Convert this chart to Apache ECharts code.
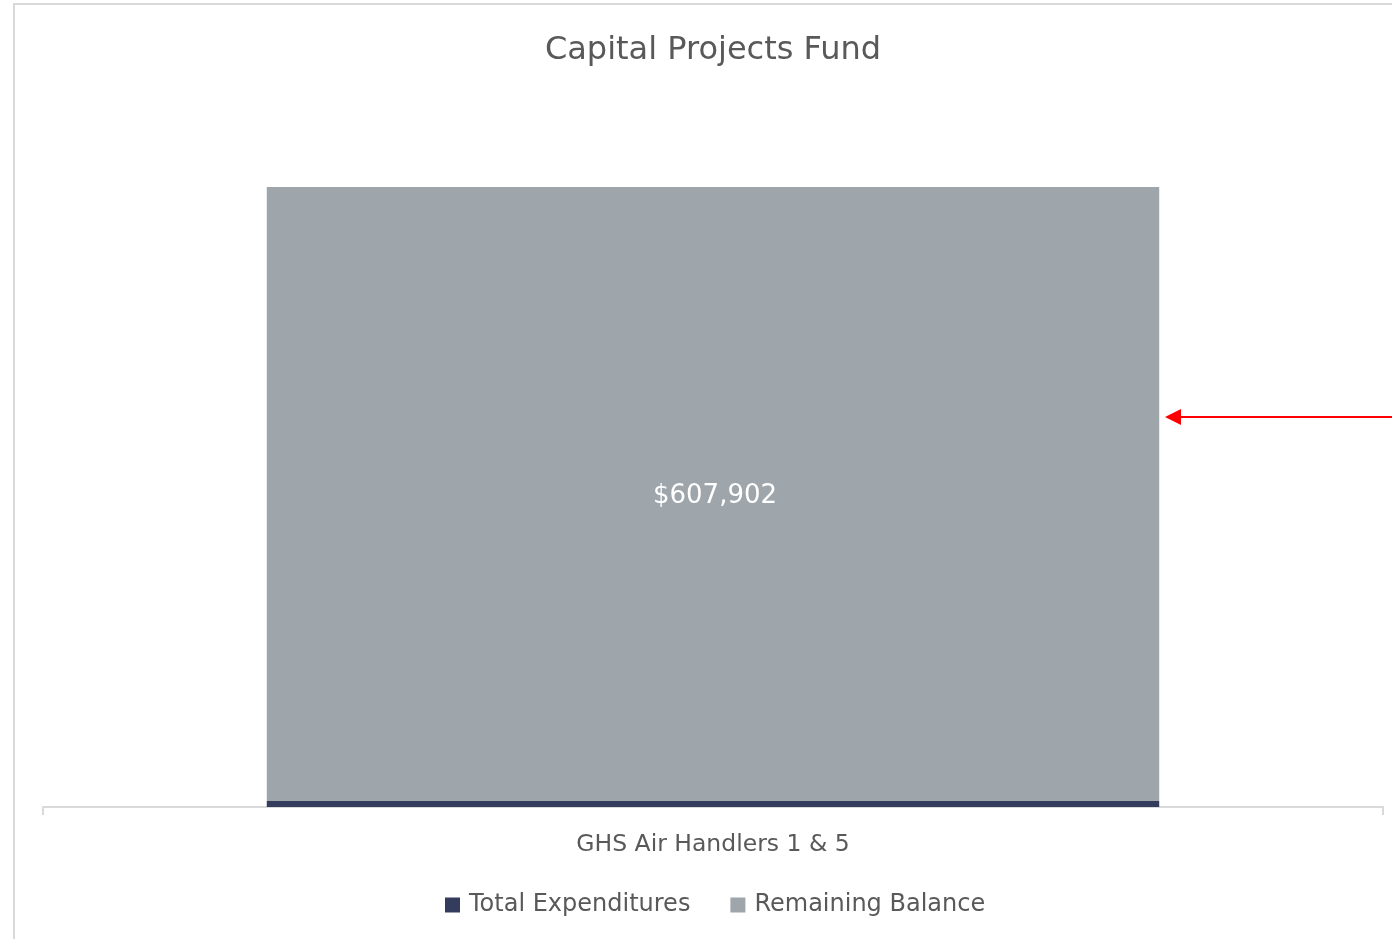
<!DOCTYPE html>
<html>
<head>
<meta charset="utf-8">
<script src="https://cdn.jsdelivr.net/npm/echarts@6/dist/echarts.min.js"></script>
<style>
html,body{margin:0;padding:0;background:#fff;}
#chart{width:1392px;height:939px;}
</style>
</head>
<body>
<div id="chart"></div>
<script>
const chartTitle = 'Capital Projects Fund';
const categories = ['GHS Air Handlers 1 & 5'];
const seriesNames = ['Total Expenditures', 'Remaining Balance'];
const totalExpenditures = [5900];
const remainingBalance = [607902];

const FONT = '"DejaVu Sans", sans-serif';
const TEXT = '#595959';
const NAVY = '#343c5e';
const GRAY = '#9ea5ab';

const chart = echarts.init(document.getElementById('chart'), null, {renderer: 'canvas'});
const yMax = totalExpenditures[0] + remainingBalance[0];

chart.setOption({
  animation: false,
  backgroundColor: '#fff',
  title: {
    text: chartTitle,
    left: 708,
    textAlign: 'center',
    top: 30,
    textStyle: {fontFamily: FONT, fontSize: 32, fontWeight: 'normal', color: TEXT}
  },
  legend: {
    top: 888,
    left: 440,
    itemWidth: 15,
    itemHeight: 15,
    itemGap: 40,
    icon: 'rect',
    textStyle: {fontFamily: FONT, fontSize: 24, color: TEXT, padding: [0, 0, 0, 4]},
    data: seriesNames
  },
  grid: {left: 43, right: 9, top: 187, bottom: 132, containLabel: false},
  xAxis: {
    type: 'category',
    data: categories,
    axisLine: {show: true, lineStyle: {color: '#d9d9d9', width: 2}},
    axisTick: {show: true, length: 8, lineStyle: {color: '#d9d9d9', width: 2}},
    axisLabel: {fontFamily: FONT, fontSize: 23.5, color: TEXT, margin: 26}
  },
  yAxis: {
    type: 'value',
    min: 0,
    max: yMax,
    show: false,
    splitLine: {show: false}
  },
  series: [
    {
      name: seriesNames[0],
      type: 'bar',
      stack: 'total',
      barWidth: '66.6%',
      data: totalExpenditures,
      itemStyle: {color: NAVY},
      label: {show: false}
    },
    {
      name: seriesNames[1],
      type: 'bar',
      stack: 'total',
      barWidth: '66.6%',
      data: remainingBalance,
      itemStyle: {color: GRAY},
      label: {
        show: true,
        position: 'inside',
        offset: [2, 2],
        color: '#fff',
        fontFamily: FONT,
        fontSize: 26,
        formatter: p => '$' + p.value.toLocaleString('en-US')
      }
    }
  ],
  graphic: [
    {
      type: 'polyline',
      silent: true,
      shape: {points: [[14, 939], [14, 4], [1392, 4]]},
      style: {stroke: '#d9d9d9', lineWidth: 2, fill: null}
    },
    {
      type: 'line',
      silent: true,
      shape: {x1: 1392, y1: 417, x2: 1176, y2: 417},
      style: {stroke: '#ff0000', lineWidth: 2}
    },
    {
      type: 'polygon',
      silent: true,
      shape: {points: [[1165, 417], [1181, 409], [1181, 425]]},
      style: {fill: '#ff0000'}
    }
  ]
});
</script>
</body>
</html>
